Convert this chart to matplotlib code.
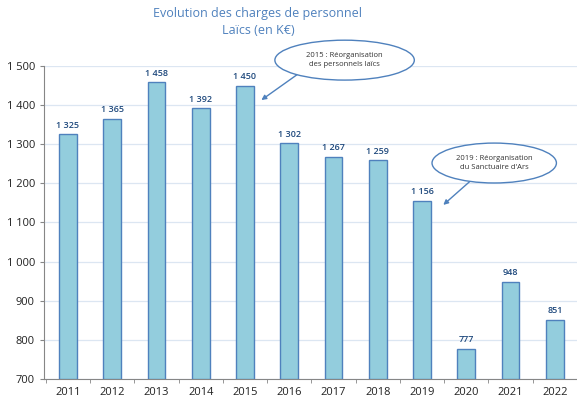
import matplotlib.pyplot as plt
from matplotlib.patches import Ellipse
from matplotlib.ticker import FuncFormatter

plt.rcParams['font.family'] = ['Open Sans', 'DejaVu Sans']

years = ['2011', '2012', '2013', '2014', '2015', '2016', '2017', '2018',
         '2019', '2020', '2021', '2022']
charges = [1325, 1365, 1458, 1392, 1450, 1302, 1267, 1259, 1156, 777, 948, 851]
yticks = [700, 800, 900, 1000, 1100, 1200, 1300, 1400, 1500]

bar_fill = '#93CDDD'
bar_edge = '#4F81BD'
label_col = '#1F497D'


def fmt(v):
    return f"{int(v):,}".replace(',', ' ')


fig = plt.figure(figsize=(5.77, 4.01), dpi=100)
ax = fig.add_axes([0.0763, 0.0549, 0.9237, 0.7805])

x = range(len(years))
ax.bar(x, [c - 700 for c in charges], bottom=700, width=0.4,
       color=bar_fill, edgecolor=bar_edge, linewidth=1, zorder=3)
for i, c in zip(x, charges):
    ax.text(i, c + 12, fmt(c), ha='center', va='bottom', fontsize=6.5,
            color=label_col, fontweight='semibold')

ax.set_xlim(-0.54, len(years) - 0.5)
ax.set_ylim(700, 1500)
ax.set_yticks(yticks)
ax.yaxis.set_major_formatter(FuncFormatter(lambda v, p: fmt(v)))
ax.grid(axis='y', color='#DCE6F2', linewidth=0.9, zorder=0)

ax.set_xticks(list(x))
ax.set_xticklabels(years)
ax.set_xticks([i + 0.5 for i in range(-1, len(years))], minor=True)
ax.tick_params(axis='x', which='major', length=0, labelsize=8, pad=6,
               labelcolor='#222222')
ax.tick_params(axis='x', which='minor', length=3, color='#868686')
ax.tick_params(axis='y', length=3, color='#868686', labelsize=8,
               labelcolor='#222222')
for s in ['top', 'right']:
    ax.spines[s].set_visible(False)
ax.spines['left'].set_color('#868686')
ax.spines['bottom'].set_color('#868686')

# notes
notes = [
    ((6.25, 1515), (3.15, 102), '2015 : Réorganisation\ndes personnels laïcs',
     (5.29, 1487), (4.37, 1413)),
    ((9.63, 1252), (2.81, 102), "2019 : Réorganisation\ndu Sanctuaire d'Ars",
     (9.22, 1219), (8.48, 1145)),
]
for (cx, cy), (w, h), txt, start, tip in notes:
    e = Ellipse((cx, cy), w, h, facecolor='white', edgecolor='#4F81BD',
                linewidth=1, zorder=5, clip_on=False)
    ax.add_patch(e)
    ax.text(cx, cy, txt, ha='center', va='center', fontsize=5.5,
            color='#333333', zorder=6, clip_on=False, linespacing=1.5)
    ax.annotate('', xy=tip, xytext=start, annotation_clip=False,
                arrowprops=dict(arrowstyle='-|>', color='#4F81BD', lw=1,
                                mutation_scale=7, shrinkA=0, shrinkB=0),
                zorder=4)

fig.text(0.447, 1 - 14 / 401, 'Evolution des charges de personnel',
         ha='center', va='center', fontsize=9, color='#4F81BD')
fig.text(0.447, 1 - 30 / 401, 'Laïcs (en K€)',
         ha='center', va='center', fontsize=9, color='#4F81BD')

fig.savefig('out.png', dpi=100)
